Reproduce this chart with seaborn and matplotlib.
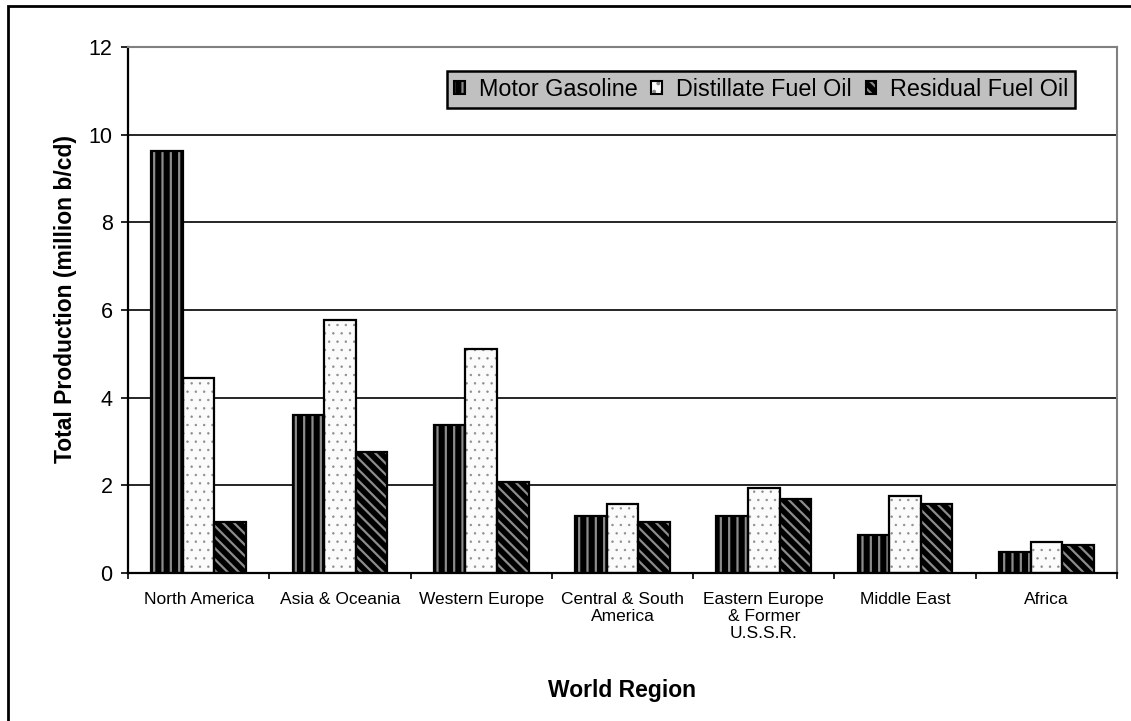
import numpy as np
import pandas as pd
import matplotlib
matplotlib.use("Agg")
import matplotlib.pyplot as plt
import seaborn as sns
from matplotlib.patches import Patch, Rectangle
from matplotlib.legend_handler import HandlerTuple

# Data (million b/cd)
regions = ["North America", "Asia & Oceania", "Western Europe",
           "Central & South\nAmerica", "Eastern Europe\n& Former\nU.S.S.R.",
           "Middle East", "Africa"]
products = ["Motor Gasoline", "Distillate Fuel Oil", "Residual Fuel Oil"]
motor_gasoline = [9.62, 3.60, 3.37, 1.30, 1.30, 0.86, 0.49]
distillate_fuel_oil = [4.45, 5.78, 5.10, 1.58, 1.95, 1.75, 0.71]
residual_fuel_oil = [1.17, 2.75, 2.07, 1.17, 1.68, 1.58, 0.63]
y_ticks = [0, 2, 4, 6, 8, 10, 12]

face_colors = ["black", "#fbfbfb", "black"]
hatches = ["||", "..", "\\\\\\"]
hatch_widths = [1.6, 0.5, 1.6]
hatch_gray = "#8c8c8c"

df = pd.DataFrame({
    "region": regions * 3,
    "product": np.repeat(products, len(regions)),
    "value": motor_gasoline + distillate_fuel_oil + residual_fuel_oil,
})

sns.set_theme(style="white")
plt.rcParams["font.family"] = ["Liberation Sans", "DejaVu Sans"]
plt.rcParams["hatch.linewidth"] = 1.6
for key in ["text.color", "axes.labelcolor", "xtick.color", "ytick.color"]:
    plt.rcParams[key] = "black"

fig = plt.figure(figsize=(11.31, 7.21), dpi=100)
ax = fig.add_axes([128 / 1131, 1 - 573 / 721, 989 / 1131, 526 / 721])

sns.barplot(data=df, x="region", y="value", hue="product", order=regions,
            hue_order=products, palette=face_colors, saturation=1,
            width=0.67, ax=ax, legend=False)

# hatch in gray, outline in black (drawn as a second, unfilled patch)
for cont, hatch, hw in zip(ax.containers, hatches, hatch_widths):
    for bar in cont:
        bar.set_hatch(hatch)
        bar.set_edgecolor(hatch_gray)
        bar.set_linewidth(0)
        if hasattr(bar, "set_hatch_linewidth"):
            bar.set_hatch_linewidth(hw)
        ax.add_patch(Rectangle(bar.get_xy(), bar.get_width(), bar.get_height(),
                               fill=False, edgecolor="black", lw=1.6, zorder=3))

ax.set_ylim(0, 12)
ax.set_xlim(-0.5, len(regions) - 0.5)
ax.set_yticks(y_ticks)
ax.set_yticklabels([str(t) for t in y_ticks])
ax.yaxis.grid(True, color="black", lw=1.2)
ax.set_axisbelow(True)

for side in ["top", "right"]:
    ax.spines[side].set_color("#808080")
    ax.spines[side].set_linewidth(1.5)
for side in ["left", "bottom"]:
    ax.spines[side].set_color("black")
    ax.spines[side].set_linewidth(1.6)

ax.tick_params(axis="y", which="major", left=True, length=5, width=1.2,
               color="black", pad=6, labelsize=15.5)
ax.set_xticks(np.arange(-0.5, len(regions), 1), minor=True)
ax.tick_params(axis="x", which="major", length=0, pad=14, labelsize=12.5)
ax.tick_params(axis="x", which="minor", bottom=True, length=4, width=1.2,
               color="black")
for lab in ax.get_xticklabels():
    lab.set_ha("center")
    lab.set_linespacing(1.15)

ax.set_xlabel("World Region", fontsize=16.5, fontweight="bold")
ax.set_ylabel("Total Production (million b/cd)", fontsize=16.5, fontweight="bold")
ax.xaxis.set_label_coords(0.5, -(690 - 573) / 526)
ax.xaxis.label.set_va("center")
ax.yaxis.set_label_coords(-(128 - 66) / 989, 0.52)
ax.yaxis.label.set_va("center")

handles = []
for fc, h in zip(face_colors, hatches):
    handles.append((Patch(facecolor=fc, hatch=h, edgecolor=hatch_gray, lw=0),
                    Patch(facecolor="none", edgecolor="black", lw=1.5)))
leg = ax.legend(handles, products, handler_map={tuple: HandlerTuple(ndivide=1)},
                loc="upper right", bbox_to_anchor=(0.958, 0.955), ncol=3,
                fontsize=16.8, frameon=True, fancybox=False, framealpha=1,
                facecolor="#c0c0c0", edgecolor="black", handlelength=0.45,
                handleheight=0.45, handletextpad=0.6, columnspacing=0.6,
                borderpad=0.3, borderaxespad=0)
leg.get_frame().set_linewidth(1.8)

# outer chart frame (only the left and top edges show in the picture)
fig.patches.append(Rectangle((8 / 1131, -0.1), 1.2, 1.1 - 6 / 721, fill=False,
                             edgecolor="black", lw=2, transform=fig.transFigure))

fig.savefig("out.png", dpi=100)
